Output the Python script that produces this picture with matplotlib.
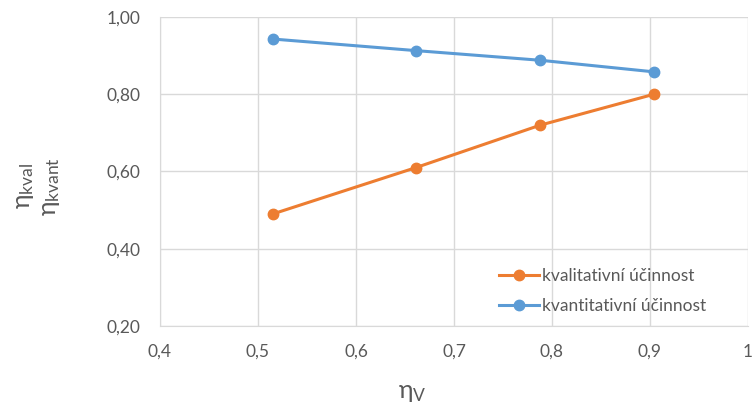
import matplotlib
matplotlib.use("Agg")
import matplotlib.pyplot as plt
from matplotlib.ticker import FuncFormatter, MultipleLocator

eta_v = [0.515, 0.661, 0.788, 0.904]
kval = [0.49, 0.61, 0.72, 0.80]
kvant = [0.943, 0.913, 0.888, 0.858]
series_names = ["kvalitativní účinnost", "kvantitativní účinnost"]

plt.rcParams['font.family'] = ['Lato', 'DejaVu Sans']
plt.rcParams['mathtext.fontset'] = 'custom'
plt.rcParams['mathtext.rm'] = 'Lato'
plt.rcParams['mathtext.it'] = 'Lato'

fig = plt.figure(figsize=(7.54, 4.12), dpi=100)
ax = fig.add_axes([160/754, 1-326/412, 588/754, 309/412])

orange = '#ED7D31'
blue = '#5B9BD5'
ax.plot(eta_v, kval, color=orange, lw=2.2, marker='o', ms=7.5, label=series_names[0], zorder=3)
ax.plot(eta_v, kvant, color=blue, lw=2.2, marker='o', ms=7.5, label=series_names[1], zorder=3)

ax.set_xlim(0.4, 1.0)
ax.set_ylim(0.2, 1.0)
ax.xaxis.set_major_locator(MultipleLocator(0.1))
ax.yaxis.set_major_locator(MultipleLocator(0.2))

def xfmt(v, p):
    s = f"{v:.1f}".replace('.', ',')
    if abs(v - 1.0) < 1e-9:
        s = "1"
    return s

ax.xaxis.set_major_formatter(FuncFormatter(xfmt))
ax.yaxis.set_major_formatter(FuncFormatter(lambda v, p: f"{v:.2f}".replace('.', ',')))

ax.grid(True, color='#D9D9D9', lw=1)
ax.set_axisbelow(True)
for s in ['top', 'right']:
    ax.spines[s].set_visible(False)
for s in ['left', 'bottom']:
    ax.spines[s].set_color('#D9D9D9')
ax.tick_params(length=0, labelsize=12.5, colors='#595959')
ax.tick_params(axis='x', pad=13)
ax.tick_params(axis='y', pad=14)

fig.text(412/754, 1-393/412, r'$\eta_{\mathrm{V}}$', fontsize=18, color='#595959', ha='center', va='center')
fig.text(25/754, 1-186/412, r'$\eta_{\mathrm{kval}}$', fontsize=18, color='#595959', rotation=90, ha='center', va='center')
fig.text(50/754, 1-186/412, r'$\eta_{\mathrm{kvant}}$', fontsize=18, color='#595959', rotation=90, ha='center', va='center')

leg = ax.legend(loc='lower right', bbox_to_anchor=(0.95, 0.0), frameon=False, fontsize=12.5,
                labelcolor='#595959', handlelength=2.3, handletextpad=0.2, labelspacing=0.78,
                borderaxespad=0.3)

fig.savefig('out.png', dpi=100)
